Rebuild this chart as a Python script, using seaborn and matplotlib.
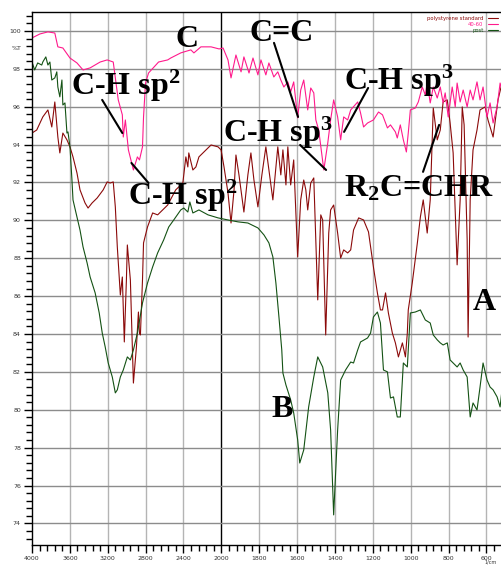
import numpy as np
import matplotlib
matplotlib.use("Agg")
import matplotlib.pyplot as plt
from matplotlib.ticker import FixedLocator
import seaborn as sns

sns.set_style("ticks")
plt.rcParams['font.family'] = ['DejaVu Sans']
plt.rcParams['mathtext.fontset'] = 'custom'
plt.rcParams['mathtext.rm'] = 'Liberation Serif:bold'
plt.rcParams['mathtext.it'] = 'Liberation Serif:bold'
plt.rcParams['mathtext.bf'] = 'Liberation Serif:bold'

# ==========================================
# data (wavenumber, %T)
# ==========================================
pink_wn = [4000, 3917, 3832, 3759, 3727, 3674, 3599, 3525, 3461, 3386,
           3280, 3206, 3142, 3089, 3046, 3036, 3014, 2982, 2929, 2887,
           2865, 2833, 2822, 2801, 2769, 2663, 2567, 2535, 2429, 2397,
           2322, 2290, 2216, 2109, 2024, 1991, 1965, 1949, 1923, 1896,
           1881, 1854, 1833, 1807, 1791, 1765, 1749, 1723, 1702, 1686,
           1670, 1649, 1634, 1618, 1597, 1581, 1565, 1544, 1528, 1512,
           1501, 1486, 1459, 1438, 1423, 1407, 1386, 1370, 1354, 1333,
           1317, 1280, 1265, 1249, 1228, 1197, 1170, 1149, 1123, 1107,
           1081, 1071, 1055, 1039, 1023, 1013, 1002, 976, 960, 939,
           923, 913, 897, 881, 860, 844, 829, 818, 802, 781,
           765, 755, 739, 723, 702, 686, 671, 650, 634, 618,
           597, 581, 565, 544, 528, 518]
pink_T = [99.63, 99.84, 99.95, 99.89, 99.16, 99.10, 98.57, 98.31, 97.94, 98.05,
          98.36, 98.47, 98.36, 96.36, 95.57, 94.40, 95.30, 93.72, 92.66, 93.35,
          93.19, 93.88, 95.46, 97.25, 97.78, 98.36, 98.47, 98.57, 98.84, 98.89,
          99.00, 98.84, 99.16, 99.16, 99.05, 99.10, 98.47, 97.52, 98.73, 97.84,
          98.63, 97.78, 98.57, 97.68, 98.47, 97.68, 98.31, 97.57, 97.84, 97.41,
          97.04, 97.31, 96.78, 97.31, 95.41, 96.88, 97.41, 95.83, 96.99, 96.73,
          95.30, 94.77, 92.66, 94.09, 95.30, 96.36, 95.46, 94.25, 95.46, 95.30,
          95.83, 96.25, 95.67, 94.93, 95.14, 95.30, 95.72, 95.57, 94.88, 95.04,
          94.67, 94.35, 95.04, 94.25, 93.61, 94.61, 95.83, 95.93, 96.25, 97.04,
          96.62, 97.25, 96.20, 97.04, 96.46, 97.04, 96.20, 96.73, 95.46, 97.04,
          95.99, 97.25, 96.25, 96.88, 95.99, 96.88, 96.36, 97.31, 96.36, 97.04,
          95.46, 96.20, 95.14, 95.99, 97.25, 96.88]

red_wn = [4000, 3950, 3886, 3832, 3791, 3759, 3727, 3706, 3674, 3631,
          3599, 3567, 3525, 3493, 3440, 3408, 3365, 3312, 3248, 3206,
          3174, 3142, 3120, 3099, 3067, 3046, 3025, 3003, 2993, 2961,
          2929, 2897, 2876, 2865, 2855, 2833, 2822, 2780, 2726, 2673,
          2620, 2567, 2482, 2407, 2375, 2354, 2344, 2301, 2269, 2237,
          2184, 2109, 2035, 2003, 1986, 1965, 1949, 1933, 1923, 1907,
          1881, 1860, 1844, 1828, 1807, 1786, 1765, 1749, 1728, 1702,
          1686, 1675, 1659, 1649, 1634, 1618, 1597, 1581, 1565, 1554,
          1544, 1528, 1512, 1491, 1475, 1465, 1449, 1433, 1423, 1407,
          1386, 1370, 1354, 1333, 1317, 1302, 1275, 1249, 1223, 1197,
          1176, 1160, 1149, 1133, 1118, 1097, 1081, 1065, 1044, 1028,
          1018, 1013, 992, 965, 949, 934, 913, 897, 881, 860,
          844, 829, 807, 792, 776, 755, 739, 728, 718, 702,
          697, 686, 671, 650, 634, 607, 592, 565, 539, 518]
red_T = [94.61, 94.77, 95.46, 95.83, 94.93, 96.25, 94.40, 93.56, 94.61, 94.25,
         93.88, 93.35, 92.50, 91.61, 90.92, 90.65, 90.92, 91.18, 91.61, 92.03,
         91.97, 92.03, 90.71, 88.60, 86.06, 87.01, 83.58, 86.85, 88.70, 86.85,
         81.41, 83.32, 85.16, 84.05, 83.95, 86.85, 88.81, 89.65, 90.39, 90.29,
         90.55, 90.81, 91.61, 91.97, 93.35, 92.82, 93.56, 92.66, 92.82, 93.35,
         93.61, 93.98, 93.88, 93.72, 92.82, 91.45, 89.86, 91.61, 93.45, 92.40,
         90.44, 92.40, 93.56, 92.13, 90.71, 92.40, 93.88, 92.66, 91.08, 93.88,
         92.40, 93.72, 91.87, 93.88, 91.87, 93.19, 88.07, 91.08, 92.13, 91.61,
         90.55, 91.97, 92.24, 85.80, 90.29, 90.02, 83.95, 89.33, 90.55, 90.81,
         89.33, 88.01, 88.44, 88.28, 88.44, 89.49, 90.13, 90.02, 89.39, 87.54,
         86.17, 85.27, 85.27, 86.17, 85.11, 84.05, 83.53, 82.79, 83.53, 82.79,
         84.05, 85.27, 86.69, 88.81, 90.18, 91.08, 89.33, 91.08, 95.93, 94.25,
         94.77, 96.25, 96.36, 95.14, 93.56, 87.65, 91.08, 95.99, 95.04, 88.97,
         83.84, 91.08, 93.72, 94.77, 95.83, 95.99, 95.30, 94.40, 96.36, 97.25]

green_wn = [4000, 3972, 3940, 3897, 3886, 3854, 3832, 3811, 3791, 3759,
            3738, 3727, 3706, 3684, 3674, 3652, 3631, 3620, 3599, 3578,
            3567, 3535, 3493, 3461, 3418, 3386, 3333, 3290, 3258, 3227,
            3195, 3152, 3120, 3099, 3067, 3036, 2993, 2961, 2929, 2887,
            2833, 2780, 2726, 2673, 2609, 2556, 2503, 2429, 2397, 2354,
            2333, 2301, 2237, 2141, 2035, 1965, 1912, 1860, 1807, 1775,
            1749, 1728, 1712, 1696, 1681, 1675, 1659, 1634, 1618, 1597,
            1586, 1565, 1539, 1512, 1491, 1465, 1438, 1423, 1407, 1386,
            1370, 1344, 1317, 1302, 1280, 1265, 1228, 1212, 1197, 1176,
            1160, 1144, 1123, 1107, 1091, 1071, 1055, 1039, 1018, 1002,
            976, 949, 923, 897, 881, 860, 844, 829, 807, 792,
            776, 755, 739, 723, 702, 686, 671, 650, 634, 618,
            597, 581, 565, 544, 528, 518]
green_T = [98.36, 97.94, 98.31, 98.20, 98.36, 98.63, 98.20, 98.36, 97.41, 97.52,
           97.84, 97.04, 96.52, 97.41, 96.09, 96.20, 94.61, 94.67, 93.88, 92.13,
           91.08, 90.39, 89.49, 88.60, 87.75, 87.01, 86.17, 85.11, 84.05, 83.32,
           82.47, 81.73, 80.89, 81.05, 81.73, 82.10, 82.79, 82.63, 83.16, 84.05,
           85.64, 86.69, 87.54, 88.28, 88.97, 89.65, 90.02, 90.55, 90.65, 90.44,
           90.97, 90.39, 90.55, 90.29, 90.13, 90.02, 89.92, 89.86, 89.60, 89.23,
           88.81, 88.07, 86.69, 84.90, 83.16, 81.94, 81.31, 80.52, 79.83, 78.41,
           77.19, 77.88, 80.15, 81.73, 82.79, 82.26, 80.89, 78.93, 74.45, 78.93,
           81.57, 82.10, 82.52, 82.47, 83.16, 83.58, 83.79, 84.05, 84.90, 85.16,
           84.58, 82.10, 82.00, 80.62, 80.68, 79.62, 79.62, 82.47, 82.26, 85.11,
           85.16, 85.27, 84.74, 84.58, 83.95, 83.69, 83.53, 83.42, 83.53, 82.63,
           82.47, 82.26, 82.47, 82.10, 81.73, 79.62, 80.36, 79.99, 81.20, 82.47,
           81.57, 81.20, 81.05, 80.68, 80.15, 81.05]

series_names = ["polystyrene standard", "40-60", "post"]
assert len(pink_wn) == len(pink_T)
assert len(red_wn) == len(red_T)
assert len(green_wn) == len(green_T)

x_major = [4000, 3600, 3200, 2800, 2400, 2000, 1800, 1600, 1400, 1200, 1000, 800, 600, 400]
y_major = list(range(74, 101, 2))

# annotation labels: (text, wavenumber, %T)
labels = [("C-H sp$^2$", 3589, 96.62), ("C-H sp$^2$", 2982, 90.81),
          ("C", 2482, 99.16), ("C=C", 1854, 99.47),
          ("C-H sp$^3$", 1991, 94.14), ("C-H sp$^3$", 1352, 96.88),
          ("R$_2$C=CHR", 1352, 91.24), ("A", 671, 85.27), ("B", 1737, 79.62)]
pointers = [((3259, 96.36), (3046, 94.61)), ((2950, 93.03), (2769, 91.97)),
            ((1722, 99.37), (1595, 95.46)), ((1584, 93.98), (1447, 92.66)),
            ((1225, 96.99), (1352, 94.67)), ((850, 95.04), (935, 92.56))]


# IR axis: expanded x2 below 2000 cm-1
def fwd(w):
    w = np.asarray(w, dtype=float)
    return np.where(w >= 2000, 5 + (w - 2000) / 400.0, 5 + (w - 2000) / 200.0)


def inv(u):
    u = np.asarray(u, dtype=float)
    return np.where(u >= 5, 2000 + (u - 5) * 400.0, 2000 + (u - 5) * 200.0)


fig = plt.figure(figsize=(5.02, 5.65), dpi=100)
ax = fig.add_axes([32 / 502, 20 / 565, 470 / 502, 533 / 565])

sns.lineplot(x=red_wn, y=red_T, ax=ax, color='#8b0a0a', lw=0.8,
             estimator=None, sort=False, label=series_names[0])
sns.lineplot(x=pink_wn, y=pink_T, ax=ax, color='#ff1a8c', lw=0.8,
             estimator=None, sort=False, label=series_names[1])
sns.lineplot(x=green_wn, y=green_T, ax=ax, color='#145214', lw=0.8,
             estimator=None, sort=False, label=series_names[2])

ax.set_xscale('function', functions=(fwd, inv))
ax.set_xlim(4000, 518)
ax.set_ylim(72.86, 101.0)

ax.xaxis.set_major_locator(FixedLocator(x_major))
minor_x = [w for w in range(4000, 2000, -80)] + [w for w in range(2000, 400, -40)]
ax.xaxis.set_minor_locator(FixedLocator(minor_x))
ax.yaxis.set_major_locator(FixedLocator(y_major))
ax.yaxis.set_minor_locator(FixedLocator(list(np.arange(73.2, 101, 0.4))))
ax.set_xticklabels([str(v) for v in x_major])
ax.set_yticklabels([str(v) for v in y_major])

ax.tick_params(axis='both', which='major', direction='out', length=6, width=1,
               labelsize=4.5, labelcolor='#333333', color='black', pad=2)
ax.tick_params(axis='both', which='minor', direction='out', length=4.5, width=1, color='black')

# grid
for v in x_major:
    if 518 < v < 4000:
        ax.axvline(v, color='black' if v == 2000 else '#b4b4b4', lw=1, zorder=0.5)
for v in y_major:
    ax.axhline(v, color='#8c8c8c', lw=1, zorder=0.5)

for s in ['left', 'top', 'bottom']:
    ax.spines[s].set_color('black')
    ax.spines[s].set_linewidth(1)
ax.spines['right'].set_visible(False)
ax.set_xlabel('')
ax.set_ylabel('')

for txt, wx, ty in labels:
    ax.text(wx, ty, txt, fontsize=23, fontweight='bold', family='Liberation Serif',
            ha='left', va='baseline', color='black', zorder=5)
for (a, b) in pointers:
    ax.plot([a[0], b[0]], [a[1], b[1]], color='black', lw=1.5, zorder=5)

leg = ax.legend(loc='upper right', fontsize=3.8, frameon=False, handlelength=2,
                markerfirst=False, labelcolor='linecolor', borderaxespad=0.3,
                labelspacing=0.2)

fig.text(17 / 502, 1 - 49 / 565, '%T', fontsize=4.5, color='#333333', ha='center', va='center')
fig.text(0.99, 0.0, '1/cm', fontsize=3.5, color='#333333', ha='right', va='bottom')

plt.savefig('out.png', dpi=100)
